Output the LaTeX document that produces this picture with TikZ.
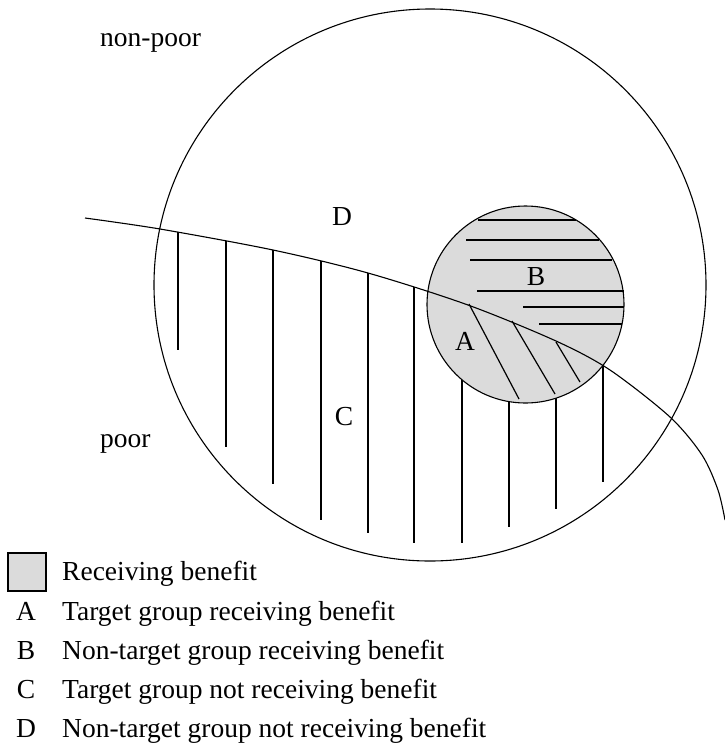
\documentclass[tikz,border=0pt]{standalone}
\usepackage{fontspec}
\setmainfont{Liberation Serif}
\definecolor{benefitgray}{gray}{0.86}

\begin{document}
\begin{tikzpicture}[x=1pt, y=-1pt,
        outline/.style={line width=1.1pt},
        hatch/.style={line width=1.2pt},
        lbl/.style={anchor=base, inner sep=0pt, font=\fontsize{27.5}{32}\selectfont},
        keytext/.style={lbl, anchor=base west}]
        \useasboundingbox (0,0) rectangle (725,748);

        % whole population
        \draw [outline] (430,285) circle [radius=276pt];

        % C: target group not receiving benefit
        \begin{scope}
            \clip plot [smooth] coordinates {(85,218) (160,229) (273,250) (368,273) (468,305) (556,341) (610,370) (670,417) (702,455) (718,490) (725,520)}
                -- (725,748) -- (0,748) -- cycle;
            \draw [hatch] (178,200) -- (178,350);
            \draw [hatch] (226,200) -- (226,447);
            \draw [hatch] (273,200) -- (273,484);
            \draw [hatch] (321,200) -- (321,520);
            \draw [hatch] (368,200) -- (368,533);
            \draw [hatch] (414,200) -- (414,543);
            \draw [hatch] (462,200) -- (462,543);
            \draw [hatch] (509,200) -- (509,527);
            \draw [hatch] (556,200) -- (556,509);
            \draw [hatch] (603,200) -- (603,482);
        \end{scope}

        % receiving benefit
        \draw [outline, fill=benefitgray] (525.5,304.5) circle [radius=98.5pt];

        % poverty line
        \draw [outline] plot [smooth] coordinates {(85,218) (160,229) (273,250) (368,273) (468,305) (556,341) (610,370) (670,417) (702,455) (718,490) (725,520)};

        % B: non-target group receiving benefit
        \draw [hatch] (478,220) -- (576,220);
        \draw [hatch] (466,240) -- (599,240);
        \draw [hatch] (470,260) -- (612,260);
        \draw [hatch] (477,291) -- (624,291);
        \draw [hatch] (523,307) -- (624,307);
        \draw [hatch] (539,324) -- (622,324);

        % A: target group receiving benefit
        \draw [hatch] (469,304) -- (519,399);
        \draw [hatch] (512,321) -- (555,394);
        \draw [hatch] (556,342) -- (580,382);

        \node [keytext] (nonpoor) at (100,46) {non-poor};
        \node [keytext] (poor) at (100,447) {poor};
        \node [lbl] (regD) at (342,225) {D};
        \node [lbl] (regC) at (344,425) {C};
        \node [lbl] (regB) at (536,285) {B};
        \node [lbl] (regA) at (465,350) {A};

        % key
        \node [draw, outline, fill=benefitgray, minimum width=38pt, minimum height=38pt, inner sep=0pt] (key) at (27,572) {};
        \node [keytext] (keyR) at (62,580) {Receiving benefit};
        \node [lbl] (keyA) at (26,620) {A};
        \node [keytext] (keyAt) at (62,620) {Target group receiving benefit};
        \node [lbl] (keyB) at (26,659) {B};
        \node [keytext] (keyBt) at (62,659) {Non-target group receiving benefit};
        \node [lbl] (keyC) at (26,698) {C};
        \node [keytext] (keyCt) at (62,698) {Target group not receiving benefit};
        \node [lbl] (keyD) at (26,737) {D};
        \node [keytext] (keyDt) at (62,737) {Non-target group not receiving benefit};
    \end{tikzpicture}
\end{document}
